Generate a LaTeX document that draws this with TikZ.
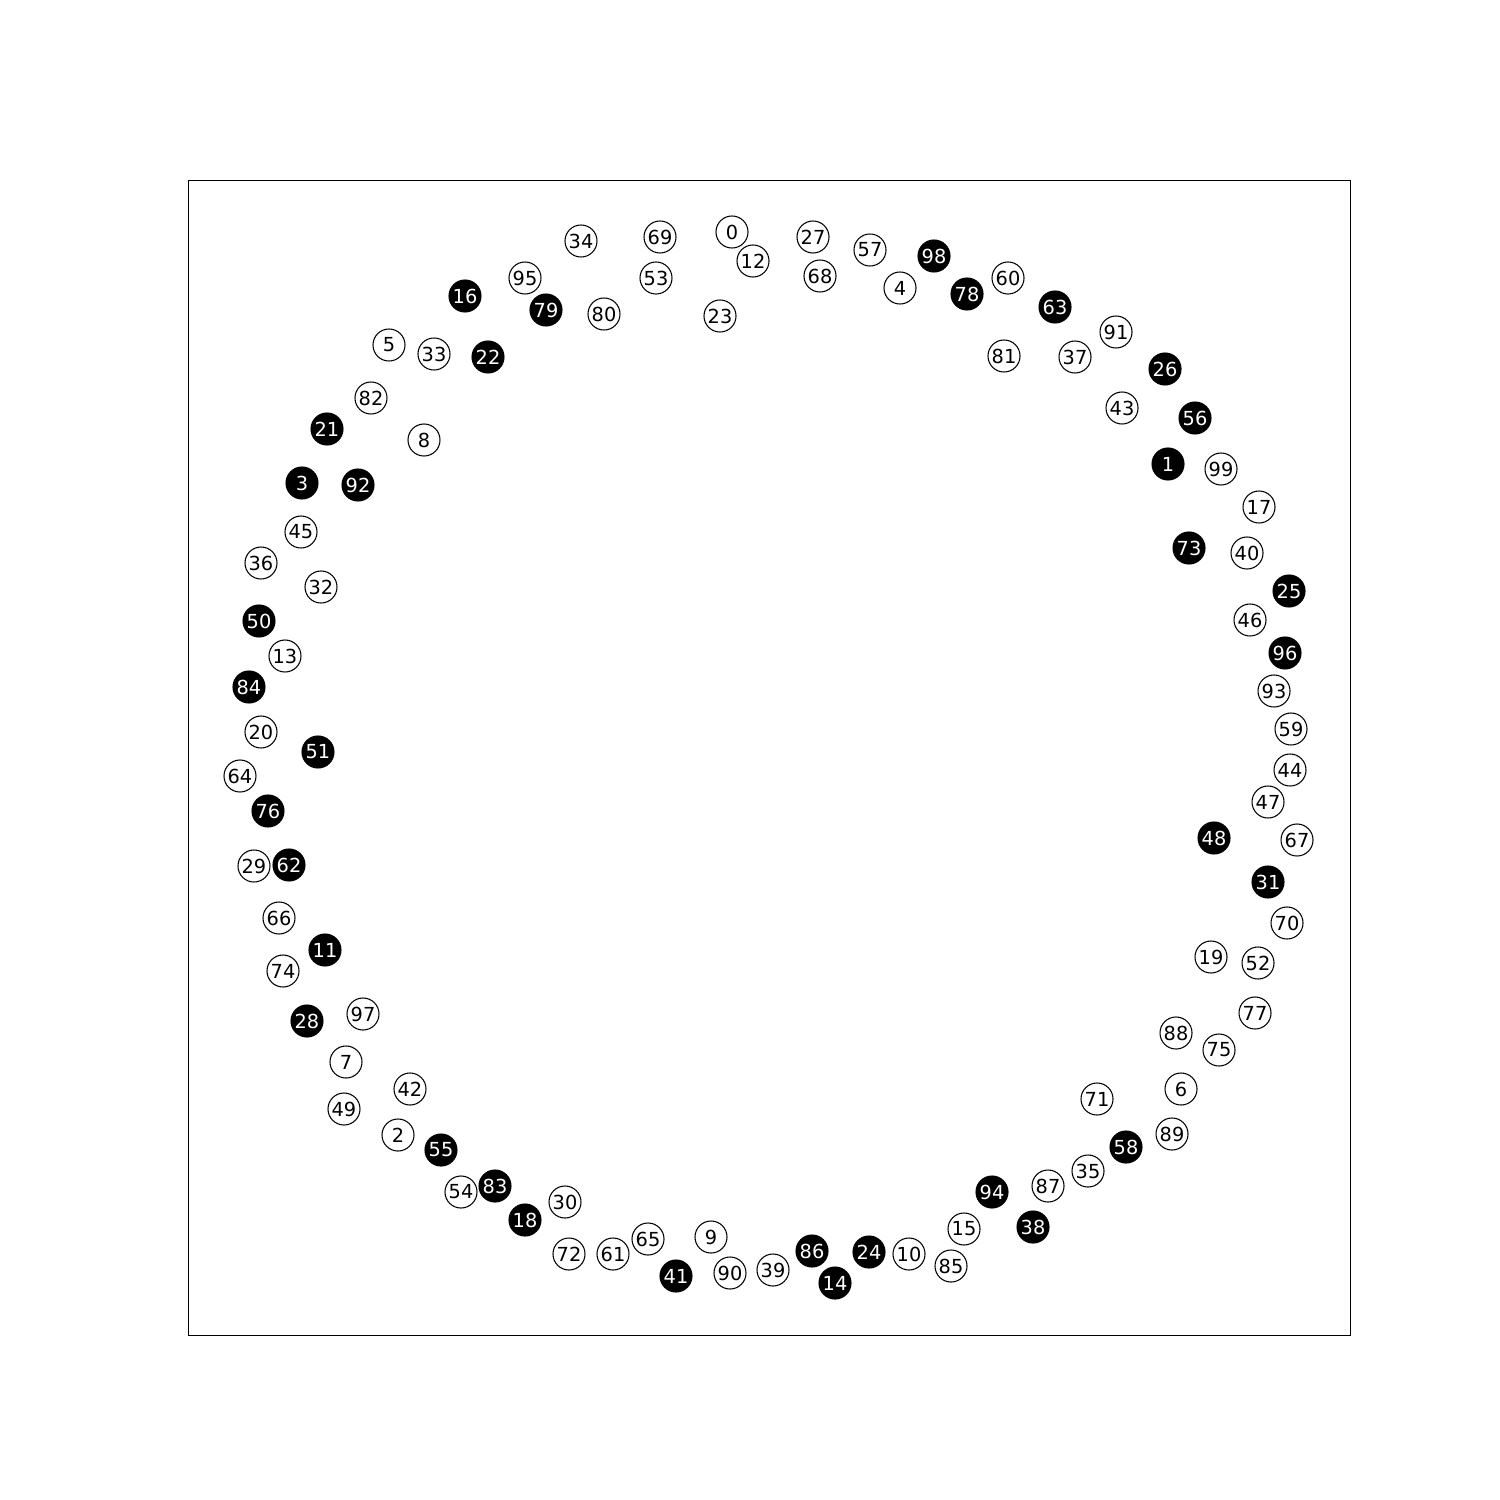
\documentclass[tikz,border=0pt]{standalone}
\usepackage{fontspec}
\setmainfont{DejaVu Sans}
\begin{document}
\begin{tikzpicture}[x=0.01cm,y=-0.01cm,
  wn/.style={circle,draw=black,fill=white,text=black,minimum size=0.32cm,inner sep=0pt,line width=0.3pt,font=\fontsize{5.5}{6}\selectfont},
  bn/.style={wn,fill=black,text=white}]
\useasboundingbox (0,0) rectangle (1500,1500);
\draw[line width=0.28pt] (188,180) rectangle (1350,1335);
\foreach \n/\px/\py in {
0/732/232,12/753/261,27/813/237,69/660/237,34/581/241,57/870/250,68/820/276,53/656/278,95/525/278,60/1008/278,4/900/288,80/604/314,23/720/316,91/1116/332,5/389/345,33/434/354,81/1004/356,37/1075/357,82/371/398,43/1122/408,8/424/440,99/1221/469,17/1259/507,45/301/532,40/1247/553,36/261/563,32/321/587,46/1250/620,13/285/656,93/1274/691,59/1291/729,20/261/732,44/1290/770,64/240/776,47/1268/802,67/1297/840,29/254/866,66/279/918,70/1287/923,19/1211/957,52/1258/963,74/283/971,77/1255/1013,97/363/1014,88/1176/1033,75/1219/1050,7/346/1062,42/410/1089,6/1181/1089,71/1097/1099,49/344/1109,89/1172/1134,2/398/1135,35/1088/1171,87/1048/1186,54/461/1192,30/565/1202,15/964/1229,9/711/1237,65/648/1239,10/909/1254,72/569/1254,61/613/1254,85/951/1266,39/773/1270,90/730/1273}
  \node[wn] (n\n) at (\px,\py) {\n};
\foreach \n/\px/\py in {
98/934/256,78/967/294,16/465/296,79/546/310,63/1055/307,22/488/357,26/1165/369,56/1195/418,21/327/429,1/1168/464,3/302/483,92/358/485,73/1189/548,25/1289/591,50/259/621,96/1285/653,84/249/687,51/318/752,76/268/811,48/1214/838,62/289/865,31/1268/882,11/325/950,28/307/1021,58/1126/1147,55/441/1150,83/495/1186,94/992/1192,18/525/1220,38/1033/1227,86/812/1251,24/869/1252,41/676/1276,14/835/1283}
  \node[bn] (n\n) at (\px,\py) {\n};
\end{tikzpicture}
\end{document}
